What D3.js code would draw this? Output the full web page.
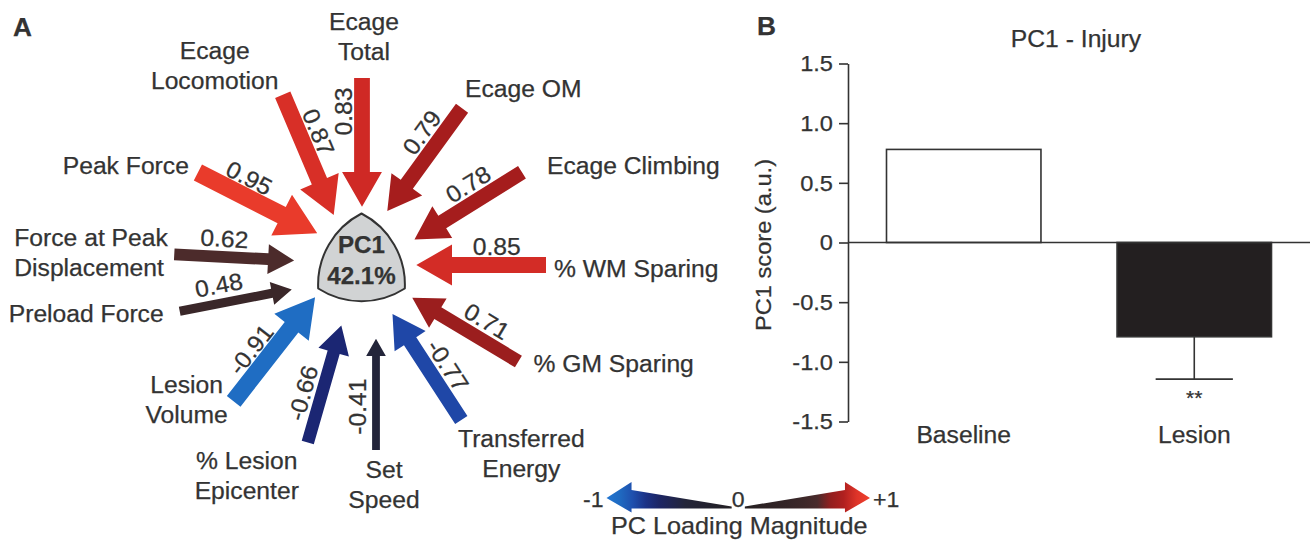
<!DOCTYPE html>
<meta charset="utf-8">
<script src="https://d3js.org/d3.v7.min.js"></script>
<style>
  body { margin: 0; background: #fff; }
  text { font-family: "Liberation Sans", Arial, sans-serif; fill: #333; stroke: #333; stroke-width: 0.25px; }
</style>
<div id="chart"></div>
<script>
// Panel A: PC1 loadings, clockwise from the top
var variables = ["Ecage\nTotal", "Ecage OM", "Ecage Climbing", "% WM Sparing", "% GM Sparing",
  "Transferred\nEnergy", "Set\nSpeed", "% Lesion\nEpicenter", "Lesion\nVolume", "Preload Force",
  "Force at Peak\nDisplacement", "Peak Force", "Ecage\nLocomotion"];
var loadings = [0.83, 0.79, 0.78, 0.85, 0.71, -0.77, -0.41, -0.66, -0.91, 0.48, 0.62, 0.95, 0.87];
var pcName = "PC1";
var pcVariance = "42.1%";

// Panel B: PC1 score per group
var groups = ["Baseline", "Lesion"];
var scores = [0.78, -0.79];
var scoreErr = [0, 0.355];
var yTicks = [-1.5, -1, -0.5, 0, 0.5, 1, 1.5];

// layout of the arrow diagram (direction in degrees, sideways shift, label offsets)
var arrowAngle = [0, 36, 58, 90, 121, 147, 180, -164, -142, -101, -87, -63, -23];
var arrowShift = [2, -9, 8, 1, 2, 0, -16, 1, 15, -12, 0, 8, -5];
var valueAt = [0.26, 0.34, 0.41, 0.38, 0.385, 0.42, 0.39, 0.38, 0.39, 0.38, 0.41, 0.36, 0.37];
var labelPos = [[2, -48, "middle"], [3, -11, "start"], [25, 2, "start"], [8, 12, "start"],
  [15, 10, "start"], [60, 27, "middle"], [8, 28, "middle"], [-61, 26, "middle"],
  [-47, -8, "middle"], [-16, 11, "end"], [-160, -8, "start"], [-9, 2, "end"], [-68, -36, "middle"]];

var W = 1310, H = 540;
var svg = d3.select("#chart").append("svg").attr("width", W).attr("height", H);

var loc = d3.formatLocale({decimal: ".", thousands: ",", grouping: [3], currency: ["", ""], minus: "-"});
var fmt2 = loc.format(".2f"), fmt1 = loc.format(".1f");

var color = d3.scaleLinear()
  .domain([-1, -0.91, -0.77, -0.66, -0.41, 0, 0.48, 0.62, 0.71, 0.79, 0.83, 0.95, 1])
  .range(["#2276d2", "#1f6dc3", "#1f47a7", "#1b2673", "#23253a", "#231f20", "#3a2729",
          "#4c2b2b", "#9b1e1e", "#a61d1d", "#cf2925", "#e93b2b", "#ef412d"]);

var shaftW = d3.scaleLinear().domain([0, 1]).range([0, 19]);
var headW = d3.scaleLinear().domain([0, 1]).range([0, 48]);
var headL = d3.scaleLinear().domain([0, 1]).range([0, 42]);

// ---- Panel A ----
var gA = svg.append("g");
gA.append("text").attr("x", 13).attr("y", 36).style("font-weight", "bold").style("font-size", "25px").text("A");

var cx = 360, cy = 264, rTail = 186, rBase = 92;
var arrows = variables.map(function(name, i) {
  var a = arrowAngle[i] * Math.PI / 180;
  return {name: name, v: loadings[i], m: Math.abs(loadings[i]), i: i, s: arrowShift[i],
          u: [Math.sin(a), -Math.cos(a)], n: [Math.cos(a), Math.sin(a)]};
});
function at(d, r, o) {
  return [cx + r * d.u[0] + (d.s + o) * d.n[0], cy + r * d.u[1] + (d.s + o) * d.n[1]];
}

gA.selectAll("path.arrow").data(arrows).join("path")
  .attr("class", "arrow")
  .attr("d", function(d) {
    var w = shaftW(d.m) / 2, hw = headW(d.m) / 2, tip = rBase - headL(d.m);
    return d3.line()([at(d, rTail, -w), at(d, rBase, -w), at(d, rBase, -hw), at(d, tip, 0),
      at(d, rBase, hw), at(d, rBase, w), at(d, rTail, w)]) + "Z";
  })
  .attr("fill", function(d) { return color(d.v); });

// loading values along the arrows
gA.selectAll("text.val").data(arrows).join("text")
  .attr("class", "val")
  .attr("transform", function(d) {
    var tip = rBase - headL(d.m);
    var p = at(d, rTail - valueAt[d.i] * (rTail - tip), 0);
    var deg = Math.round(Math.atan2(-d.u[1], -d.u[0]) * 180 / Math.PI * 1000) / 1000;
    if (deg >= 90) deg -= 180;
    if (deg < -90) deg += 180;
    return "translate(" + p + ") rotate(" + deg + ")";
  })
  .attr("y", -10)
  .attr("text-anchor", "middle")
  .style("font-size", "23.5px")
  .text(function(d) { return fmt2(d.v); });

// variable names at the arrow tails
arrows.forEach(function(d) {
  var t = at(d, rTail, 0), lp = labelPos[d.i];
  d.name.split("\n").forEach(function(line, k) {
    gA.append("text")
      .attr("x", t[0] + lp[0]).attr("y", t[1] + lp[1] + k * 30)
      .attr("text-anchor", lp[2])
      .style("font-size", "23.5px")
      .text(line);
  });
});

// PC1 badge
var pcx = 361.5, pcy = 263.5;
var v = [0, 120, 240].map(function(a) {
  var p = d3.pointRadial(a * Math.PI / 180, 50);
  return [pcx + p[0], pcy + p[1]];
});
gA.append("path")
  .attr("d", "M" + v[0] + "A80,80 0 0 0 " + v[2] + "A80,80 0 0 0 " + v[1] + "A80,80 0 0 0 " + v[0] + "Z")
  .attr("fill", "#d1d3d4").attr("stroke", "#333").attr("stroke-width", 2).attr("stroke-linejoin", "round");
gA.append("text").attr("x", pcx).attr("y", 253).attr("text-anchor", "middle")
  .style("font-weight", "bold").style("font-size", "23px").text(pcName);
gA.append("text").attr("x", pcx).attr("y", 284).attr("text-anchor", "middle")
  .style("font-weight", "bold").style("font-size", "23px").text(pcVariance);

// colour legend
var lx = d3.scaleLinear().domain([-1, 1]).range([606.5, 870]);
var defs = svg.append("defs");
[-1, 1].forEach(function(sg) {
  var gid = sg < 0 ? "gradNeg" : "gradPos";
  var grad = defs.append("linearGradient").attr("id", gid)
    .attr("gradientUnits", "userSpaceOnUse")
    .attr("x1", lx(0)).attr("x2", lx(sg)).attr("y1", 0).attr("y2", 0);
  d3.range(0, 1.01, 0.1).forEach(function(t) {
    grad.append("stop").attr("offset", t).attr("stop-color", color(sg * t));
  });
  var tail = lx(sg * 0.05), base = lx(sg * 0.81), tip = lx(sg);
  var pts = [[tail, 508.5], [tail, 506.5], [base, 490], [base, 482], [tip, 498],
             [base, 512.5], [base, 508.5]];
  gA.append("path").attr("d", d3.line()(pts) + "Z").attr("fill", "url(#" + gid + ")");
});
gA.append("text").attr("x", lx(-1) - 3).attr("y", 507).attr("text-anchor", "end").style("font-size", "22px").text("-1");
gA.append("text").attr("x", lx(0)).attr("y", 507).attr("text-anchor", "middle").style("font-size", "22px").text("0");
gA.append("text").attr("x", lx(1) + 3).attr("y", 507).attr("text-anchor", "start").style("font-size", "22px").text("+1");
gA.append("text").attr("x", lx(0) + 1).attr("y", 534).attr("text-anchor", "middle").style("font-size", "24px").text("PC Loading Magnitude");

// ---- Panel B ----
var gB = svg.append("g");
gB.append("text").attr("x", 757).attr("y", 35).style("font-weight", "bold").style("font-size", "25px").text("B");

var y = d3.scaleLinear().domain([-1.5, 1.5]).range([421.5, 63.5]);
var x = d3.scaleBand().domain(groups).range([848, 1310]).paddingInner(0.33).paddingOuter(0.167);

gB.append("text").attr("x", 1076).attr("y", 46.5).attr("text-anchor", "middle")
  .style("font-size", "23.5px").text("PC1 - Injury");

var axis = gB.append("g").attr("transform", "translate(848,0)")
  .call(d3.axisLeft(y).tickValues(yTicks).tickSize(9).tickSizeOuter(0).tickPadding(6)
    .tickFormat(function(d) { return d === 0 ? "0" : fmt1(d); }));
axis.selectAll("path,line").attr("stroke", "#333").attr("stroke-width", 1.6);
axis.selectAll("text").attr("fill", "#333").style("font-size", "22.5px")
  .style("font-family", "'Liberation Sans', Arial, sans-serif");

gB.append("text").attr("transform", "translate(771,245) rotate(-90)").attr("text-anchor", "middle")
  .style("font-size", "22.5px").text("PC1 score (a.u.)");

gB.selectAll("rect.bar").data(groups).join("rect")
  .attr("class", "bar")
  .attr("x", function(d) { return x(d); })
  .attr("width", x.bandwidth())
  .attr("y", function(d, i) { return y(Math.max(0, scores[i])); })
  .attr("height", function(d, i) { return Math.abs(y(scores[i]) - y(0)); })
  .attr("fill", function(d, i) { return i === 0 ? "#fff" : "#231f20"; })
  .attr("stroke", "#333").attr("stroke-width", 1.6);

// error bars (drawn away from zero)
groups.forEach(function(g, i) {
  if (!scoreErr[i]) return;
  var xc = x(g) + x.bandwidth() / 2, end = scores[i] + Math.sign(scores[i]) * scoreErr[i];
  gB.append("line").attr("x1", xc).attr("x2", xc).attr("y1", y(scores[i])).attr("y2", y(end))
    .attr("stroke", "#333").attr("stroke-width", 1.6);
  gB.append("line").attr("x1", xc - x.bandwidth() * 0.25).attr("x2", xc + x.bandwidth() * 0.25)
    .attr("y1", y(end)).attr("y2", y(end)).attr("stroke", "#333").attr("stroke-width", 1.6);
  gB.append("text").attr("x", xc).attr("y", y(end) + 26).attr("text-anchor", "middle")
    .style("font-size", "20px").text("**");
});

gB.append("line").attr("x1", 848).attr("x2", W).attr("y1", y(0)).attr("y2", y(0))
  .attr("stroke", "#333").attr("stroke-width", 1.6);

gB.selectAll("text.cat").data(groups).join("text")
  .attr("class", "cat")
  .attr("x", function(d) { return x(d) + x.bandwidth() / 2; })
  .attr("y", 443).attr("text-anchor", "middle").style("font-size", "23.5px")
  .text(function(d) { return d; });

// the original lettering is set a little wider than Arial; stretch every label along its run
svg.selectAll("text").each(function() {
  var len = this.getComputedTextLength();
  d3.select(this).attr("textLength", len * 1.05).attr("lengthAdjust", "spacingAndGlyphs");
});
</script>
